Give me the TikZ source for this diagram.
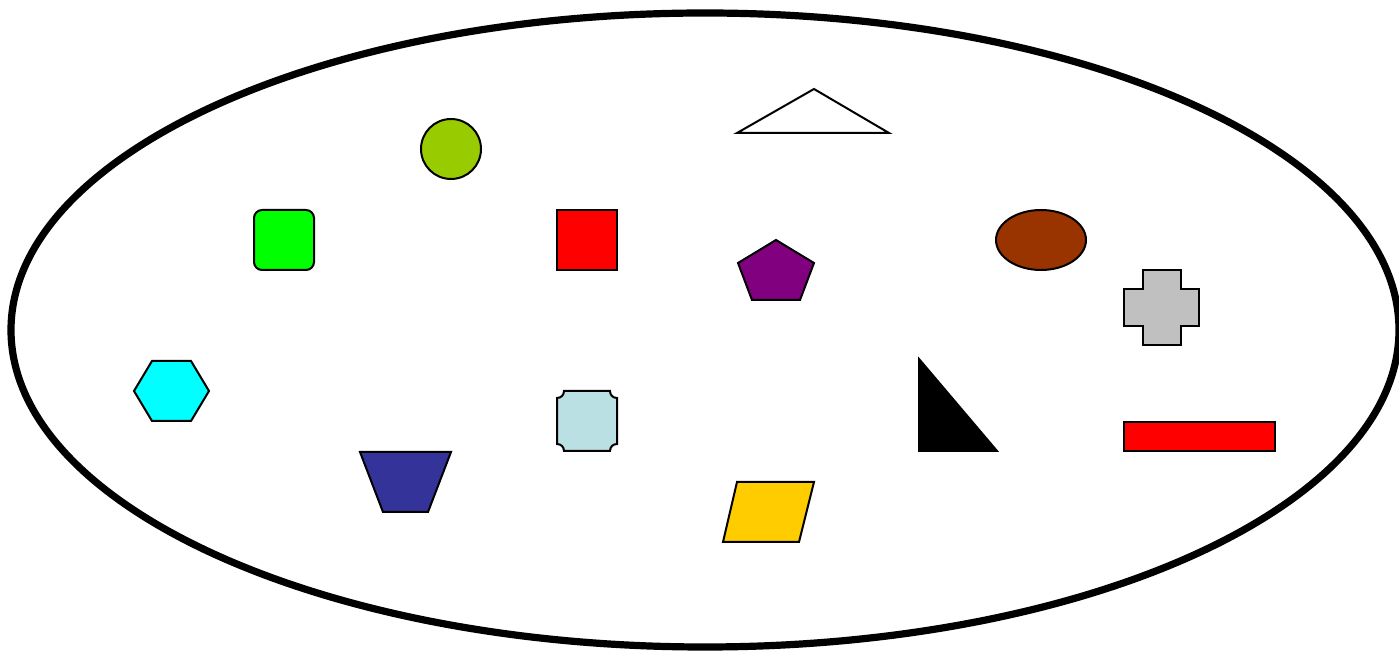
\documentclass[tikz,border=0pt]{standalone}
\usetikzlibrary{calc}
\definecolor{shlime}{HTML}{99CC00}
\definecolor{shgreen}{HTML}{00FF00}
\definecolor{shred}{HTML}{FF0000}
\definecolor{shpurple}{HTML}{800080}
\definecolor{shbrown}{HTML}{993300}
\definecolor{shgray}{HTML}{C0C0C0}
\definecolor{shcyan}{HTML}{00FFFF}
\definecolor{shpale}{HTML}{BBE0E3}
\definecolor{shnavy}{HTML}{333399}
\definecolor{shgold}{HTML}{FFCC00}

\begin{document}
\begin{tikzpicture}[
    x=0.5pt,
    y=-0.5pt,
    shp/.style={draw=black, line width=1pt, line join=miter},
    rim/.style={draw=black, line width=3.6pt}
  ]
    \useasboundingbox (0,0) rectangle (1399,651);
    \fill[white] (0,0) rectangle (1399,651);

    % outer set
    \draw[rim] (705,330) ellipse [x radius=694, y radius=317];

    % top row
    \draw[shp, fill=shlime] (451,149) circle [radius=30];
    \draw[shp, fill=white] (737,133) -- (814,89) -- (889,133) -- cycle;
    \draw[shp, fill=shgreen, rounded corners=4pt] (254,210) rectangle (314,270);
    \draw[shp, fill=shred] (557,210) rectangle (617,270);
    \draw[shp, fill=shpurple] (776,240) -- (814,263) -- (800,300) -- (752,300) -- (738,263) -- cycle;
    \draw[shp, fill=shbrown] (1041,240) ellipse [x radius=45, y radius=30];
    \draw[shp, fill=shgray] (1143,270) -- (1181,270) -- (1181,289) -- (1199,289) -- (1199,326) -- (1181,326)
      -- (1181,345) -- (1143,345) -- (1143,326) -- (1124,326) -- (1124,289) -- (1143,289) -- cycle;

    % bottom row
    \draw[shp, fill=shcyan] (134,391) -- (152,361) -- (191,361) -- (209,391) -- (191,421) -- (152,421) -- cycle;
    \draw[shp, fill=shpale] (564,391) -- (610,391) .. controls (610,395) and (613,398) .. (617,398)
      -- (617,444) .. controls (613,444) and (610,447) .. (610,451)
      -- (564,451) .. controls (564,447) and (561,444) .. (557,444)
      -- (557,398) .. controls (561,398) and (564,395) .. (564,391) -- cycle;
    \draw[shp, fill=shnavy] (360,452) -- (451,452) -- (428,512) -- (383,512) -- cycle;
    \draw[shp, fill=black] (919,359) -- (997,451) -- (919,451) -- cycle;
    \draw[shp, fill=shred] (1124,422) rectangle (1275,451);
    \draw[shp, fill=shgold] (737,482) -- (814,482) -- (799,542) -- (723,542) -- cycle;
  \end{tikzpicture}
\end{document}
